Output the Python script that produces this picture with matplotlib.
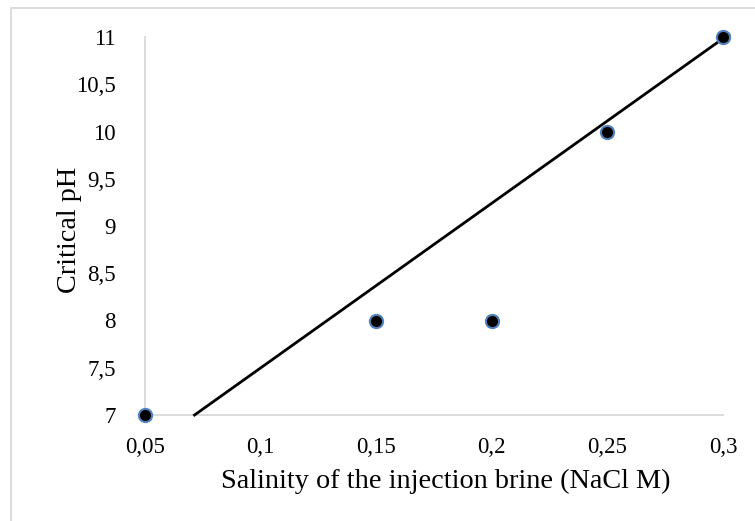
import matplotlib
matplotlib.use("Agg")
import matplotlib.pyplot as plt
from matplotlib.patches import Rectangle
from matplotlib.ticker import FixedLocator, FuncFormatter
import numpy as np

salinity = [0.05, 0.15, 0.2, 0.25, 0.3]
critical_ph = [7, 8, 8, 10, 11]
trend_slope = 17.43
trend_intercept = 5.755
trend_x_range = [0.0714, 0.3025]
x_ticks = [0.05, 0.1, 0.15, 0.2, 0.25, 0.3]
y_ticks = [7, 7.5, 8, 8.5, 9, 9.5, 10, 10.5, 11]

plt.rcParams['font.family'] = ['Liberation Serif', 'DejaVu Serif']

fig = plt.figure(figsize=(7.55, 5.21), dpi=100)
fig.patches.append(Rectangle((10.5/755, -0.05), 1.1, 1 - 8/521 + 0.05,
                             transform=fig.transFigure, fill=False,
                             edgecolor='#D9D9D9', linewidth=1.3, zorder=0))
ax = fig.add_axes([145/755, 1 - 415/521, (723 - 145)/755, (415 - 37)/521])

tx = np.array(trend_x_range)
ax.plot(tx, trend_slope * tx + trend_intercept, color='black', linewidth=2.0,
        zorder=3, clip_on=False)
ax.plot(salinity, critical_ph, linestyle='none', marker='o', markersize=9.5,
        markerfacecolor='black', markeredgecolor='#4F81BD', markeredgewidth=1.5,
        zorder=4, clip_on=False)

ax.set_xlim(0.05, 0.3)
ax.set_ylim(7, 11)
ax.xaxis.set_major_locator(FixedLocator(x_ticks))
ax.yaxis.set_major_locator(FixedLocator(y_ticks))
fmt = FuncFormatter(lambda v, p: ('%g' % v).replace('.', ','))
ax.xaxis.set_major_formatter(fmt)
ax.yaxis.set_major_formatter(fmt)
ax.tick_params(axis='both', length=0, labelsize=16.5)
ax.tick_params(axis='x', pad=16)
ax.tick_params(axis='y', pad=21)

for s in ['top', 'right']:
    ax.spines[s].set_visible(False)
for s in ['left', 'bottom']:
    ax.spines[s].set_color('#D9D9D9')
    ax.spines[s].set_linewidth(1.3)

fig.text(446/755, 1 - 481/521, 'Salinity of the injection brine (NaCl M)',
         ha='center', va='center', fontsize=20.3)
fig.text(69/755, 1 - 230/521, 'Critical pH', ha='center', va='center',
         rotation=90, fontsize=20.3)

fig.savefig('out.png', dpi=100)
